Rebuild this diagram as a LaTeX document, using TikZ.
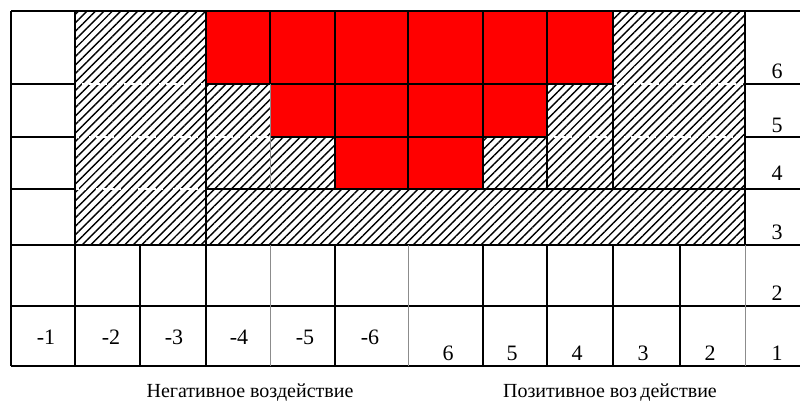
\documentclass[tikz,border=0pt]{standalone}
\usepackage{fontspec}
\setmainfont{Liberation Serif}
\usetikzlibrary{patterns.meta}

\tikzset{
  frame/.style={line width=2pt},
  rule/.style={line width=1.2pt},
  fine/.style={line width=1pt, black!45},
  seam/.style={white, line width=1.5pt, dash pattern=on 4pt off 3pt},
  hatch/.style={pattern={Lines[angle=45,distance=6pt,line width=1.4pt]}},
  hot/.style={fill=red},
  num/.style={inner sep=0pt, font=\fontsize{22}{26}\selectfont},
  caption/.style={inner sep=0pt, font=\fontsize{20}{24}\selectfont},
}

\begin{document}
\begin{tikzpicture}[x=1pt, y=-1pt]
  \useasboundingbox (0,0) rectangle (800,412);
  % hatched field (rows 3--6)
  \fill[hatch] (75,11) rectangle (745,245);
  % red cells
  \foreach \xa/\xb in {206/270,270/335,335/408,408/483,483/547,547/613}
    \fill[hot] (\xa,11) rectangle (\xb,84);
  \foreach \xa/\xb in {270/335,335/408,408/483,483/547}
    \fill[hot] (\xa,84) rectangle (\xb,137);
  \foreach \xa/\xb in {335/408,408/483}
    \fill[hot] (\xa,137) rectangle (\xb,189);
  % white seams across the hatch
  \draw[seam] (75,84) -- (206,84);
  \draw[seam] (613,84) -- (745,84);
  \draw[seam] (75,137) -- (270,137);
  \draw[seam] (547,137) -- (745,137);
  \draw[seam] (75,189) -- (206,189);
  % horizontal rules
  \draw[frame] (11,11) -- (800,11);
  \foreach \y in {84,137,189} {
    \draw[frame] (11,\y) -- (75,\y);
    \draw[frame] (745,\y) -- (800,\y);
  }
  \draw[frame] (206,84) -- (613,84);
  \draw[frame] (270,137) -- (547,137);
  \draw[frame] (206,189) -- (745,189);
  \draw[rule] (11,245) -- (800,245);
  \draw[frame] (11,306) -- (800,306);
  \draw[frame] (11,366) -- (800,366);
  % vertical rules
  \draw[frame] (11,11) -- (11,366);
  \draw[frame] (75,11) -- (75,366);
  \draw[rule] (206,11) -- (206,366);
  \draw[rule] (270,11) -- (270,84);
  \draw[fine] (270,84) -- (270,189);
  \draw[fine] (270,245) -- (270,366);
  \foreach \x in {335,408,483,547,613}
    \draw[frame] (\x,11) -- (\x,189);
  \foreach \x in {140,335,483,547,613,680}
    \draw[frame] (\x,245) -- (\x,366);
  \draw[fine] (408,245) -- (408,366);
  \draw[rule] (745,11) -- (745,245);
  \draw[fine] (745,245) -- (745,366);
  % scale labels
  \foreach \x/\t [count=\i] in {46/-1,111/-2,174/-3,239/-4,305/-5,370/-6}
    \node[num] (neg\i) at (\x,337) {\t};
  \foreach \x/\t [count=\i] in {448/6,512/5,577/4,643/3,710/2}
    \node[num, anchor=base] (pos\i) at (\x,360) {\t};
  \foreach \y/\t in {78/6,132/5,180/4,239/3,300/2,360/1}
    \node[num, anchor=base] (row\t) at (777,\y) {\t};
  % captions
  \node[caption] (negcap) at (250,393) {Негативное воздействие};
  \node[caption] (poscap) at (610,393) {Позитивное воз\,действие};
\end{tikzpicture}
\end{document}
